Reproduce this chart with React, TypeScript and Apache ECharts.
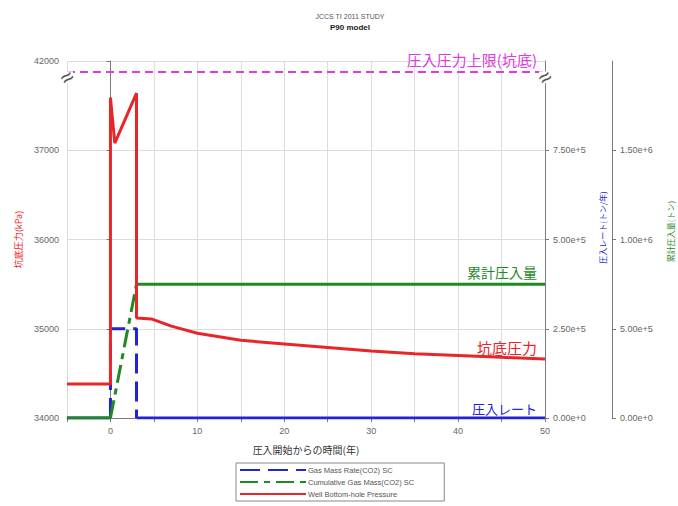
import React, { useEffect, useRef } from "react";
import * as echarts from "echarts";

// Well bottom-hole pressure (kPa) against years since injection start
const pressureYears = [-5, 0, 0, 0.5, 3, 3, 4.7, 7, 10, 15, 20, 25, 30, 35, 40, 45, 50];
const pressureKPa = [34380, 34380, 37590, 37080, 37640, 35120, 35110, 35030, 34950, 34870, 34830, 34790, 34750, 34720, 34700, 34680, 34660];

// CO2 injection rate (t/yr)
const rateYears = [-5, 0, 0, 3, 3, 50];
const rateTonPerYear = [0, 0, 250000, 250000, 0, 0];

// Cumulative injected CO2 (t)
const cumYears = [-5, 0, 3, 50];
const cumTon = [0, 0, 750000, 750000];

// Injection pressure ceiling (bottom-hole), drawn above the axis break
const injectionPressureLimit = 39900;

// Left axis ticks and the axis break: everything above BREAK_AT is compressed
const pressureTicks = [34000, 35000, 36000, 37000, 42000];
const BREAK_AT = 37750;
const AXIS_TOP = 38000;
const TOP_REAL = pressureTicks[pressureTicks.length - 1];
const toAxis = (p: number) => (p <= BREAK_AT ? p : BREAK_AT + (p - BREAK_AT) * (AXIS_TOP - BREAK_AT) / (TOP_REAL - BREAK_AT));
const fromAxis = (a: number) => (a <= BREAK_AT ? a : BREAK_AT + (a - BREAK_AT) * (TOP_REAL - BREAK_AT) / (AXIS_TOP - BREAK_AT));

const RED = "#e8262a";
const BLUE = "#2323d6";
const GREEN = "#1f8a1f";
const MAGENTA = "#e03ae0";
const AXIS = "#7a7a7a";
const JP = "'Noto Sans CJK JP', 'Noto Sans', sans-serif";
const LAT = "'Liberation Sans', Arial, sans-serif";

const NAME_RATE = "Gas Mass Rate(CO2) SC";
const NAME_CUM = "Cumulative Gas Mass(CO2) SC";
const NAME_P = "Well Bottom-hole Pressure";

const pairs = (xs: number[], ys: number[], from: number, to: number) =>
  xs.slice(from, to + 1).map((x, i) => [x, ys[from + i]]);

export default function App() {
  const ref = useRef<HTMLDivElement>(null);

  useEffect(() => {
    if (!ref.current) return;
    const chart = echarts.init(ref.current, null, { renderer: "svg" });

    const rateDash = pairs(rateYears, rateTonPerYear, 1, 4);
    const rateSolid = [...pairs(rateYears, rateTonPerYear, 0, 1), [null, null], ...pairs(rateYears, rateTonPerYear, 4, 5)];
    const cumDash = pairs(cumYears, cumTon, 1, 2);
    const cumSolid = [...pairs(cumYears, cumTon, 0, 1), [null, null], ...pairs(cumYears, cumTon, 2, 3)];
    const pressure = pressureYears.map((x, i) => [x, toAxis(pressureKPa[i])]);
    const limitLine = [[-5, toAxis(injectionPressureLimit)], [50, toAxis(injectionPressureLimit)]];

    const tickLabel = { color: "#666", fontSize: 9, fontFamily: LAT };
    const axisLine = { show: true, lineStyle: { color: AXIS, width: 1 } };
    const axisTick = { show: true, length: 4, lineStyle: { color: AXIS } };
    const expFmt = (v: number) => v.toExponential(2);

    const option: any = {
      animation: false,
      backgroundColor: "#fff",
      title: {
        text: "JCCS TI 2011 STUDY",
        subtext: "P90 model",
        left: 345,
        top: 8,
        textAlign: "center",
        itemGap: 3,
        textStyle: { fontSize: 7, fontWeight: "normal", color: "#555", fontFamily: LAT },
        subtextStyle: { fontSize: 8, fontWeight: "bold", color: "#222", fontFamily: LAT },
      },
      legend: {
        orient: "vertical",
        left: 236,
        top: 463,
        data: [NAME_RATE, NAME_CUM, NAME_P],
        itemWidth: 66,
        itemHeight: 8,
        itemGap: 4,
        padding: [3, 30, 3, 3],
        borderColor: "#888",
        borderWidth: 1,
        selectedMode: false,
        itemStyle: { opacity: 0, borderWidth: 0 },
        textStyle: { fontSize: 7.5, color: "#555", fontFamily: LAT, padding: [0, 0, 0, -3] },
      },
      grid: { left: 67, right: 133, top: 61, bottom: 88, outerBoundsMode: "none", containLabel: false },
      xAxis: {
        type: "value",
        min: -5,
        max: 50,
        interval: 5,
        name: "圧入開始からの時間(年)",
        nameLocation: "middle",
        nameGap: 26,
        nameTextStyle: { fontSize: 10, color: "#333", fontFamily: JP },
        axisLine,
        axisTick,
        axisLabel: { ...tickLabel, margin: 8, formatter: (v: number) => (v % 10 === 0 ? String(v) : "") },
        splitLine: { show: true, lineStyle: { color: "#dcdcdc", width: 1 } },
      },
      yAxis: [
        {
          type: "value",
          position: "left",
          min: pressureTicks[0],
          max: AXIS_TOP,
          interval: 1000,
          name: "坑底圧力(kPa)",
          nameLocation: "middle",
          nameRotate: 90,
          nameGap: 36,
          nameTextStyle: { fontSize: 9, color: RED, fontFamily: JP },
          axisLine,
          axisTick,
          axisLabel: { ...tickLabel, formatter: (v: number) => String(Math.round(fromAxis(v))) },
          splitLine: { show: true, lineStyle: { color: "#dcdcdc", width: 1 } },
        },
        {
          type: "value",
          position: "right",
          min: 0,
          max: 1000000,
          interval: 250000,
          name: "圧入レート(トン/年)",
          nameLocation: "middle",
          nameRotate: 90,
          nameGap: 53,
          nameTextStyle: { fontSize: 8, color: BLUE, fontFamily: JP, padding: [0, 0, 0, 24] },
          axisLine,
          axisTick,
          axisLabel: { ...tickLabel, showMaxLabel: false, formatter: expFmt },
          splitLine: { show: false },
        },
        {
          type: "value",
          position: "right",
          offset: 67,
          min: 0,
          max: 2000000,
          interval: 500000,
          name: "累計圧入量(トン)",
          nameLocation: "middle",
          nameRotate: 90,
          nameGap: 54,
          nameTextStyle: { fontSize: 8, color: GREEN, fontFamily: JP, padding: [0, 0, 0, 16] },
          axisLine,
          axisTick,
          axisLabel: { ...tickLabel, showMaxLabel: false, formatter: expFmt },
          splitLine: { show: false },
        },
      ],
      series: [
        {
          name: NAME_RATE, type: "line", yAxisIndex: 1, symbol: "none", data: rateDash,
          lineStyle: { color: BLUE, width: 3, type: [20, 8] }, itemStyle: { color: BLUE }, z: 3,
        },
        {
          name: NAME_RATE, type: "line", yAxisIndex: 1, symbol: "none", data: rateSolid, connectNulls: false,
          lineStyle: { color: BLUE, width: 3 }, itemStyle: { color: BLUE }, z: 3,
        },
        {
          name: NAME_CUM, type: "line", yAxisIndex: 2, symbol: "none", data: cumDash,
          lineStyle: { color: GREEN, width: 3, type: [18, 6, 6, 6] }, itemStyle: { color: GREEN }, z: 4,
        },
        {
          name: NAME_CUM, type: "line", yAxisIndex: 2, symbol: "none", data: cumSolid, connectNulls: false,
          lineStyle: { color: GREEN, width: 3 }, itemStyle: { color: GREEN }, z: 4,
        },
        {
          name: NAME_P, type: "line", yAxisIndex: 0, symbol: "none", data: pressure,
          lineStyle: { color: RED, width: 3 }, itemStyle: { color: RED }, z: 5,
        },
        {
          name: "limit", type: "line", yAxisIndex: 0, symbol: "none", data: limitLine,
          lineStyle: { color: MAGENTA, width: 2, type: [8, 5] }, itemStyle: { color: MAGENTA }, z: 5,
        },
      ],
    };

    chart.setOption(option);

    // Axis break marks and in-plot series captions, positioned through the axes
    const xRight = chart.convertToPixel({ xAxisIndex: 0 }, 50) as number;
    const xLeft = chart.convertToPixel({ xAxisIndex: 0 }, -5) as number;
    const yBreak = (chart.convertToPixel({ yAxisIndex: 0 }, BREAK_AT) as number) - 6;
    const capX = xRight - 8;
    const yCum = chart.convertToPixel({ yAxisIndex: 2 }, cumTon[cumTon.length - 1]) as number;
    const yP = chart.convertToPixel({ yAxisIndex: 0 }, toAxis(pressureKPa[pressureKPa.length - 1])) as number;
    const yRate = chart.convertToPixel({ yAxisIndex: 1 }, rateTonPerYear[rateTonPerYear.length - 1]) as number;
    const yLim = chart.convertToPixel({ yAxisIndex: 0 }, toAxis(injectionPressureLimit)) as number;

    const breakMark = (x: number) => [
      { type: "rect", shape: { x: x - 6, y: yBreak - 6, width: 12, height: 12 }, style: { fill: "#fff" }, z: 100 },
      {
        type: "text", x, y: yBreak, rotation: 0.6, z: 101,
        style: { text: "≈", font: `22px ${LAT}`, fill: "#555", align: "center", verticalAlign: "middle", textAlign: "center", textVerticalAlign: "middle" },
      },
    ];
    const caption = (text: string, y: number, color: string, size: number) => ({
      type: "text", x: capX, y, z: 100,
      style: { text, font: `${size}px ${JP}`, fill: color, align: "right", verticalAlign: "bottom", textAlign: "right", textVerticalAlign: "bottom" },
    });

    chart.setOption({
      graphic: [
        ...breakMark(xLeft),
        ...breakMark(xRight),
        caption("圧入圧力上限(坑底)", yLim - 5, MAGENTA, 15),
        caption("累計圧入量", yCum - 5, GREEN, 14),
        caption("坑底圧力", yP - 4, RED, 15),
        caption("圧入レート", yRate - 3, BLUE, 13),
      ],
    });

    return () => chart.dispose();
  }, []);

  return <div ref={ref} style={{ width: 678, height: 506, position: "absolute", left: 0, top: 0 }} />;
}
